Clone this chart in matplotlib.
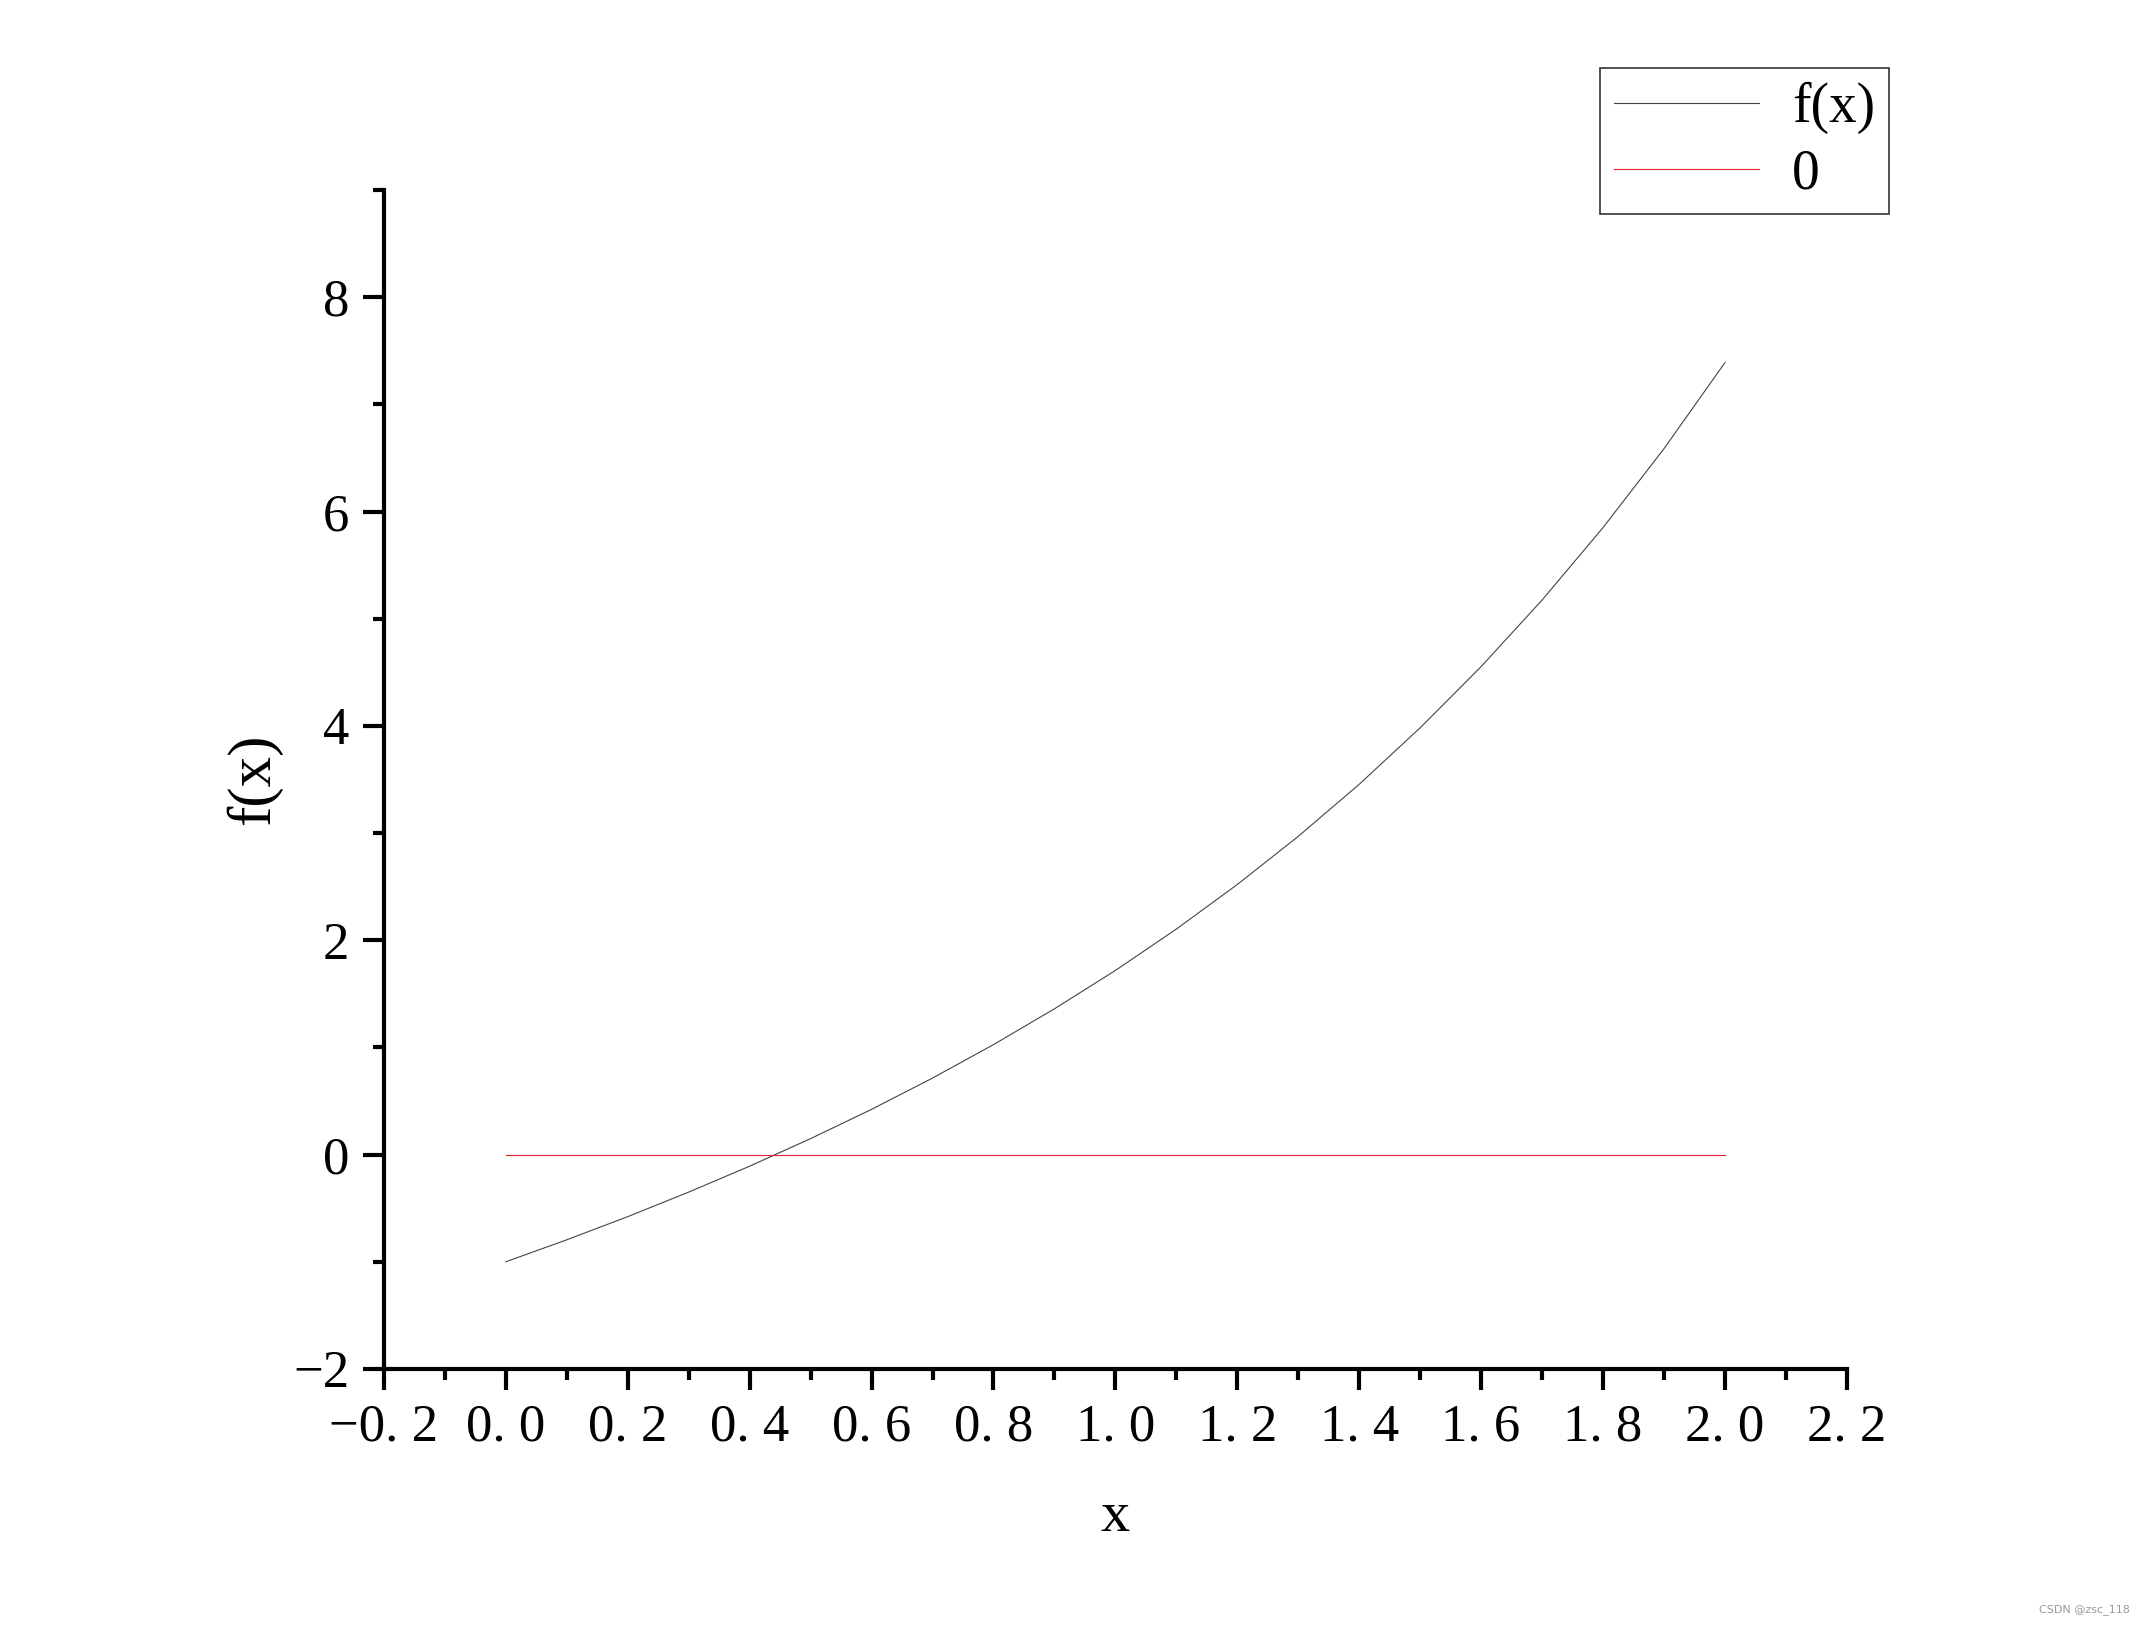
"""
Plot of f(x) together with the zero line, styled like the original export.
"""

import matplotlib.pyplot as plt
from matplotlib.ticker import MultipleLocator, FuncFormatter

# Values
x_vals = [0.0, 0.1, 0.2, 0.3, 0.4, 0.5, 0.6, 0.7, 0.8, 0.9, 1.0,
          1.1, 1.2, 1.3, 1.4, 1.5, 1.6, 1.7, 1.8, 1.9, 2.0]
f_vals = [-1.000, -0.795, -0.579, -0.350, -0.108, 0.149, 0.422, 0.714, 1.026, 1.360, 1.718,
          2.104, 2.520, 2.969, 3.455, 3.982, 4.553, 5.174, 5.850, 6.586, 7.389]
zero_x = [0.0, 2.0]
zero_y = [0.0, 0.0]

plt.rcParams['font.family'] = ['Liberation Serif', 'DejaVu Serif']

fig = plt.figure(figsize=(21.45, 16.42), dpi=100)
ax = fig.add_axes([0.179, 0.1663, 0.682, 0.718])

l1, = ax.plot(x_vals, f_vals, color='#444444', linewidth=0.8, label='f(x)')
l2, = ax.plot(zero_x, zero_y, color='#e8202a', linewidth=0.8, label='0')

ax.set_xlim(-0.2, 2.2)
ax.set_ylim(-2, 9)

for side in ['top', 'right']:
    ax.spines[side].set_visible(False)
for side in ['left', 'bottom']:
    ax.spines[side].set_linewidth(3)
    ax.spines[side].set_color('black')

ax.xaxis.set_major_locator(MultipleLocator(0.2))
ax.xaxis.set_minor_locator(MultipleLocator(0.1))
ax.yaxis.set_major_locator(MultipleLocator(2))
ax.yaxis.set_minor_locator(MultipleLocator(1))


def fmt_x(v, pos):
    s = f"{v:.1f}".replace('-', '\u2212')
    return s.replace('.', '. ')


def fmt_y(v, pos):
    return f"{v:.0f}".replace('-', '\u2212')


ax.xaxis.set_major_formatter(FuncFormatter(fmt_x))
ax.yaxis.set_major_formatter(FuncFormatter(fmt_y))

ax.tick_params(which='major', direction='out', length=15, width=3,
               labelsize=38, pad=10)
ax.tick_params(which='minor', direction='out', length=8, width=3)
ax.tick_params(axis='y', which='major', pad=10)

ax.set_xlabel('x', fontsize=42, labelpad=28)
ax.set_ylabel('f(x)', fontsize=44, labelpad=8)

leg = fig.legend(handles=[l1, l2], loc='upper right',
                 bbox_to_anchor=(0.8807, 0.9586), fontsize=40,
                 frameon=True, fancybox=False, edgecolor='black',
                 handlelength=2.6, handletextpad=0.6, labelspacing=0.25,
                 borderpad=0.25, borderaxespad=0)
leg.get_frame().set_linewidth(1.2)

fig.text(0.993, 0.0195, 'CSDN @zsc_118', fontsize=8, color='#999999',
         family='DejaVu Sans', ha='right', va='center')

plt.savefig('out.png', dpi=100)
